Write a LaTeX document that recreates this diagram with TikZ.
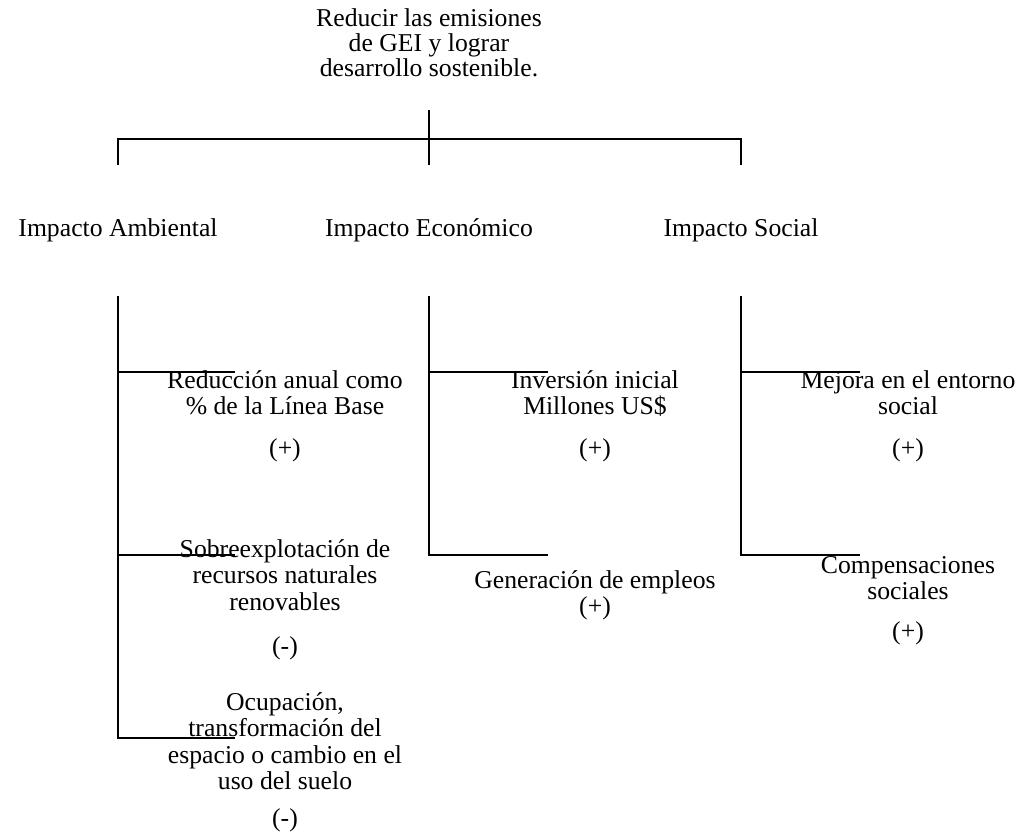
\documentclass[tikz,border=0pt]{standalone}
\usepackage{fontspec}
\setmainfont{Liberation Serif}
\newfontfamily\tnr{Liberation Serif}
\begin{document}
\begin{tikzpicture}[x=1pt,y=-1pt,
  lbl/.style={inner sep=0pt,align=center,anchor=base,font=\tnr\fontsize{25.7}{26.5}\selectfont},
  goalbox/.style={lbl,font=\tnr\fontsize{25.7}{25}\selectfont},
  tree/.style={line width=2.9pt,line cap=butt,line join=miter}]
\useasboundingbox (0,0) rectangle (1026,837);

% goal (positioned by the baseline of its last line)
\node[goalbox] (goal) at (429,77) {Reducir las emisiones\\de GEI y lograr\\desarrollo sostenible.};

% top bracket
\coordinate (gtop) at (429,110);
\coordinate (gbot) at (429,165);
\coordinate (lbar) at (118,139);
\coordinate (lbot) at (118,165);
\coordinate (rbar) at (741,139);
\coordinate (rbot) at (741,165);
\draw[tree] (gtop) -- (gbot);
\draw[tree] (lbot) -- (lbar) -- (rbar) -- (rbot);

% headings
\node[lbl] (amb) at (118,237) {Impacto Ambiental};
\node[lbl] (eco) at (429,237) {Impacto Económico};
\node[lbl] (soc) at (741,237) {Impacto Social};

% environmental stem
\coordinate (a0) at (118,296);
\coordinate (a1) at (118,372);
\coordinate (a2) at (118,555);
\coordinate (a3) at (118,738);
\coordinate (a1e) at (235,372);
\coordinate (a2e) at (235,555);
\coordinate (a3e) at (235,738);
\draw[tree] (a0) -- (a3) -- (a3e);
\draw[tree] (a1) -- (a1e);
\draw[tree] (a2) -- (a2e);

% economic stem
\coordinate (e0) at (429,296);
\coordinate (e1) at (429,372);
\coordinate (e2) at (429,555);
\coordinate (e1e) at (548,372);
\coordinate (e2e) at (548,555);
\draw[tree] (e0) -- (e2) -- (e2e);
\draw[tree] (e1) -- (e1e);

% social stem
\coordinate (s0) at (741,296);
\coordinate (s1) at (741,372);
\coordinate (s2) at (741,555);
\coordinate (s1e) at (860,372);
\coordinate (s2e) at (860,555);
\draw[tree] (s0) -- (s2) -- (s2e);
\draw[tree] (s1) -- (s1e);

% environmental items (multi-line texts sit on the baseline of their last line)
\node[lbl] (a1t) at (285,414.5) {Reducción anual como\\\% de la Línea Base};
\node[lbl] (a1s) at (285,456) {(+)};
\node[lbl] (a2t) at (285,610) {Sobreexplotación de\\recursos naturales\\renovables};
\node[lbl] (a2s) at (285,654) {(-)};
\node[lbl] (a3t) at (285,789.5) {Ocupación,\\transformación del\\espacio o cambio en el\\uso del suelo};
\node[lbl] (a3s) at (285,826) {(-)};

% economic items
\node[lbl] (e1t) at (595,414.5) {Inversión inicial\\Millones US\$};
\node[lbl] (e1s) at (595,456) {(+)};
\node[lbl] (e2t) at (595,614.5) {Generación de empleos\\(+)};

% social items
\node[lbl] (s1t) at (908,414.5) {Mejora en el entorno\\social};
\node[lbl] (s1s) at (908,456) {(+)};
\node[lbl] (s2t) at (908,599.5) {Compensaciones\\sociales};
\node[lbl] (s2s) at (908,639) {(+)};
\end{tikzpicture}
\end{document}
